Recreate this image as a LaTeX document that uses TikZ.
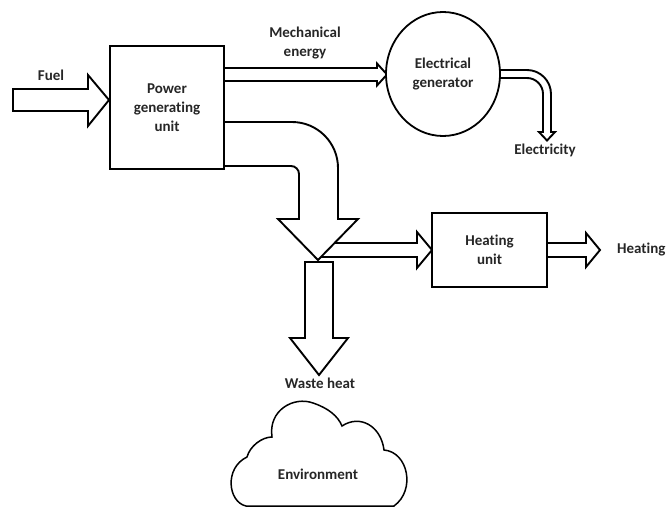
\documentclass[tikz,border=0pt]{standalone}
\usepackage{fontspec}
\setmainfont{Carlito}[Ligatures=NoCommon]
\usetikzlibrary{shapes.geometric,backgrounds}
\begin{document}
\begin{tikzpicture}[x=1pt,y=-1pt,
  lbl/.style={font=\fontsize{15}{19}\selectfont\bfseries, text=black!85, align=center, inner sep=0pt},
  unitbox/.style={draw, line width=2.8pt, fill=white, inner sep=0pt, lbl},
  genshape/.style={draw, ellipse, line width=1.8pt, fill=white, inner sep=0pt, lbl},
  blockarrow/.style={draw, line width=1.9pt, fill=white, line join=miter, miter limit=10},
  cloudline/.style={draw, line width=1.5pt, fill=white}]
\path[use as bounding box] (0,0) rectangle (666,508);

% main nodes
\node[unitbox, minimum width=114pt, minimum height=123pt] (pgu) at (167,107.5) {Power\\generating\\unit};
\node[genshape, minimum width=114pt, minimum height=124pt] (gen) at (443,74) {Electrical\\generator};
\node[unitbox, minimum width=115pt, minimum height=74pt] (hu) at (489.5,250) {Heating\\unit};

% labels
\node[lbl] (fuel) at (51,75) {Fuel};
\node[lbl] (mech) at (305,43) {Mechanical\\energy};
\node[lbl] (elec) at (545,150) {Electricity};
\node[lbl, anchor=west] (heat) at (617,250) {Heating};
\node[lbl] (waste) at (320,383) {Waste heat};

% cloud
\path[cloudline] (246,506) .. controls (228,502) and (224,468) .. (247,457)
  .. controls (250,446) and (262,437) .. (272,437)
  .. controls (268,410) and (294,396) .. (313,403)
  .. controls (328,408) and (338,416) .. (342,426)
  .. controls (360,414) and (381,426) .. (384,450)
  .. controls (408,452) and (416,490) .. (394,506)
  -- cycle;
\node[lbl] (env) at (318,474) {Environment};

\begin{pgfonlayer}{background}
% fuel -> power generating unit
\path[blockarrow] (13,89) -- (88,89) -- (88,75) -- (109,100) -- (88,126) -- (88,111) -- (13,111) -- cycle;
% mechanical energy -> generator
\path[blockarrow] (215,68) -- (377,68) -- (377,63.5) -- (387,74.5) -- (377,85.5) -- (377,81) -- (215,81) -- cycle;
% generator -> electricity
\path[blockarrow] (490,70) -- (527,70) .. controls (540.2,70) and (551,80.8) .. (551,94)
  -- (551,132) -- (555,132) -- (547,140.5) -- (539,132) -- (543,132) -- (543,94)
  .. controls (543,85.2) and (535.8,78) .. (527,78) -- (490,78) -- cycle;
% split -> heating unit
\path[blockarrow] (318,243) -- (417,243) -- (417,232) -- (432,250) -- (417,268) -- (417,257) -- (318,257) -- cycle;
% waste heat
\path[blockarrow] (305,262) -- (333,262) -- (333,338) -- (348,338) -- (319,375) -- (290,338) -- (305,338) -- cycle;
% power generating unit -> heat
\path[blockarrow] (215,122) -- (292,122) .. controls (317.4,122) and (338,142.6) .. (338,168)
  -- (338,219) -- (358,219) -- (318,260) -- (278,219) -- (299,219) -- (299,174)
  .. controls (299,169.6) and (295.4,166) .. (291,166) -- (215,166) -- cycle;
% heating unit -> heating
\path[blockarrow] (540,243) -- (586,243) -- (586,233) -- (600,250) -- (586,267) -- (586,257) -- (540,257) -- cycle;
\end{pgfonlayer}
\end{tikzpicture}
\end{document}
